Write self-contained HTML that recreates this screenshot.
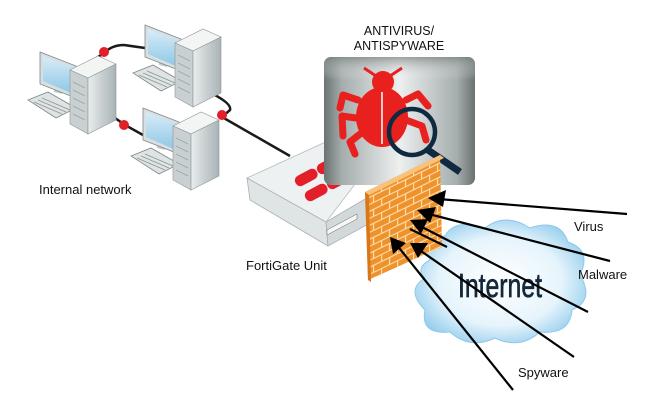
<!DOCTYPE html>
<html><head><meta charset="utf-8"><style>
html,body{margin:0;padding:0;background:#fff;width:672px;height:420px;overflow:hidden}
svg{display:block}
text{font-family:"Liberation Sans",sans-serif}
</style></head><body>
<svg width="672" height="420" viewBox="0 0 672 420" xmlns="http://www.w3.org/2000/svg">
<defs>
<linearGradient id="box" x1="0" x2="1" y1="0" y2="0">
<stop offset="0" stop-color="#6a7272"/><stop offset="0.12" stop-color="#a5adad"/><stop offset="0.5" stop-color="#eef0f0"/><stop offset="0.88" stop-color="#a5adad"/><stop offset="1" stop-color="#687070"/>
</linearGradient>
<linearGradient id="boxv" x1="0" x2="0" y1="0" y2="1">
<stop offset="0" stop-color="#7a8282" stop-opacity="0.7"/><stop offset="0.18" stop-color="#fff" stop-opacity="0"/><stop offset="1" stop-color="#fff" stop-opacity="0"/>
</linearGradient>
<radialGradient id="cloud" cx="0.5" cy="0.5" r="0.6">
<stop offset="0" stop-color="#ffffff"/><stop offset="0.6" stop-color="#e6f4fc"/><stop offset="1" stop-color="#86c6ea"/>
</radialGradient>
<pattern id="brick" width="16" height="14" patternUnits="userSpaceOnUse" patternTransform="translate(365,192) skewY(-26)">
<rect width="16" height="14" fill="#f0922c"/>
<path d="M0 0.5H16M0 7.5H16M0.5 0V7M8.5 7V14" stroke="#fbe0b0" stroke-width="1.2"/>
</pattern>
<linearGradient id="tower" x1="0" x2="1"><stop offset="0" stop-color="#e8eced"/><stop offset="1" stop-color="#a9b3b6"/></linearGradient>
<linearGradient id="screen" x1="0" x2="0" y1="0" y2="1"><stop offset="0" stop-color="#d8edf8"/><stop offset="1" stop-color="#8ec7e6"/></linearGradient>
<g id="pc">
<polygon points="-12,48 8,40 36,56 16,66" fill="#dfe3e4" stroke="#7d8789" stroke-width="0.8"/>
<path d="M-6 50 L22 62 M-2 48 L26 60 M2 46 L30 58" stroke="#8a9496" stroke-width="0.8"/>
<polygon points="14,32 22,36 22,42 14,40" fill="#c5cccd"/>
<polygon points="0,0 36,14 36,46 0,32" fill="#d9dfe1" stroke="#7d8789" stroke-width="0.8"/>
<polygon points="3,4 33,16 33,42 3,29" fill="url(#screen)"/>
<polygon points="30,18 58,4 76,12 48,26" fill="#f3f5f5" stroke="#8c9597" stroke-width="0.6"/>
<polygon points="30,18 48,26 48,82 30,72" fill="#c9d0d2" stroke="#8c9597" stroke-width="0.6"/>
<polygon points="48,26 76,12 76,68 48,82" fill="url(#tower)" stroke="#8c9597" stroke-width="0.6"/>
<path d="M33 30 L45 36 M33 38 L45 44 M33 46 L45 52 M33 54 L45 60 M33 62 L45 68" stroke="#9aa3a5" stroke-width="0.8"/>
</g>
</defs>

<path d="M78 70 L104 53 Q112 45 124 45 L145 48" fill="none" stroke="#1a1a1a" stroke-width="2.5"/>
<path d="M115 118 L125 125 L143 135" fill="none" stroke="#1a1a1a" stroke-width="2.5"/>
<path d="M213 94 Q232 104 230 110 L222 117 L290 156" fill="none" stroke="#1a1a1a" stroke-width="2.5"/>

<use href="#pc" x="40" y="52"/>
<use href="#pc" x="145" y="25"/>
<use href="#pc" x="143" y="108"/>

<circle cx="104" cy="52" r="5" fill="#e3202a"/>
<circle cx="124" cy="125" r="5" fill="#e3202a"/>
<circle cx="222" cy="115" r="5" fill="#e3202a"/>

<text x="39" y="194" font-size="13" fill="#111">Internal network</text>

<polygon points="247,178 330,140 372,162 326,222" fill="#eef1f1" stroke="#b5bcbd" stroke-width="0.8"/>
<polygon points="247,178 326,222 328,246 250,200" fill="#dfe4e5" stroke="#a9b1b2" stroke-width="0.8"/>
<polygon points="326,222 372,195 372,222 328,246" fill="#d3d9da" stroke="#a9b1b2" stroke-width="0.8"/>
<g fill="#e3202a">
<rect x="294" y="172" width="24" height="11" rx="5" transform="rotate(-28 306 177)"/>
<rect x="316" y="160" width="24" height="11" rx="5" transform="rotate(-28 328 165)"/>
<rect x="304" y="187" width="24" height="11" rx="5" transform="rotate(-28 316 192)"/>
<rect x="326" y="175" width="24" height="11" rx="5" transform="rotate(-28 338 180)"/>
</g>
<polygon points="327,230 357,214 357,219 327,235" fill="#f7f7f7" stroke="#666" stroke-width="0.5"/>
<text x="246" y="270" font-size="13" fill="#111">FortiGate Unit</text>

<text x="399" y="35" font-size="12.5" text-anchor="middle" fill="#111">ANTIVIRUS/</text>
<text x="399" y="50" font-size="12.5" text-anchor="middle" fill="#111">ANTISPYWARE</text>
<rect x="324" y="57" width="151" height="128" rx="7" fill="url(#box)"/>
<rect x="324" y="57" width="151" height="128" rx="7" fill="url(#boxv)"/>
<g fill="#e8201e" stroke="#e8201e">
<path d="M364 68 L376 76 M402 68 L390 76" stroke-width="3" fill="none"/>
<circle cx="383" cy="82" r="11" stroke="none"/>
<ellipse cx="382" cy="117" rx="26" ry="30" stroke="none"/>
<path d="M358 100 L343 95 L340 108 M356 118 L342 116 L343 136 M360 134 L350 142 L355 154 M406 100 L418 94 L428 106 M406 120 L422 126 L426 140" stroke-width="7" fill="none" stroke-linecap="round" stroke-linejoin="round"/>
</g>
<line x1="382" y1="92" x2="382" y2="144" stroke="#fff" stroke-width="1.5"/>
<circle cx="412" cy="132" r="23" fill="none" stroke="#0f2a40" stroke-width="4.5"/>
<line x1="428" y1="150" x2="460" y2="172" stroke="#0f2a40" stroke-width="7"/>

<g fill="url(#cloud)" stroke="#8fc8ea" stroke-width="1">
<path d="M430 260 Q418 238 445 236 Q455 218 485 228 Q505 212 530 228 Q560 218 568 242 Q592 250 580 275 Q595 300 572 310 Q570 335 540 332 Q520 350 495 338 Q470 350 450 332 Q420 335 425 310 Q405 290 425 278 Q415 268 430 260 Z"/>
</g>
<text x="458" y="297" font-size="33" fill="#16293a" stroke="#16293a" stroke-width="0.7" textLength="84" lengthAdjust="spacingAndGlyphs">Internet</text>

<polygon points="365,192 440,155 442,247 368,280" fill="url(#brick)"/>
<polygon points="365,192 440,155 444,158 369,195" fill="#f8c27a"/>
<polygon points="365,192 369,195 371,282 368,280" fill="#d9761a"/>

<g stroke="#000" stroke-width="2.2">
<line x1="627" y1="214" x2="438" y2="199"/>
<line x1="610" y1="261" x2="425" y2="213"/>
<line x1="588" y1="312" x2="418" y2="225"/>
<line x1="574" y1="357" x2="418" y2="249"/>
<line x1="513" y1="390" x2="396" y2="244"/>
<line x1="447" y1="247" x2="410" y2="229"/>
</g>
<g fill="#000">
<polygon points="428,198 446,190 443,207"/>
<polygon points="417,210 436,207 430,223"/>
<polygon points="410,220 428,219 421,234"/>
<polygon points="410,243 428,243 418,258"/>
<polygon points="390,237 406,243 393,254"/>
</g>

<text x="574" y="231" font-size="13" fill="#111">Virus</text>
<text x="578" y="279" font-size="13" fill="#111">Malware</text>
<text x="518" y="377" font-size="13" fill="#111">Spyware</text>
</svg>
</body></html>
